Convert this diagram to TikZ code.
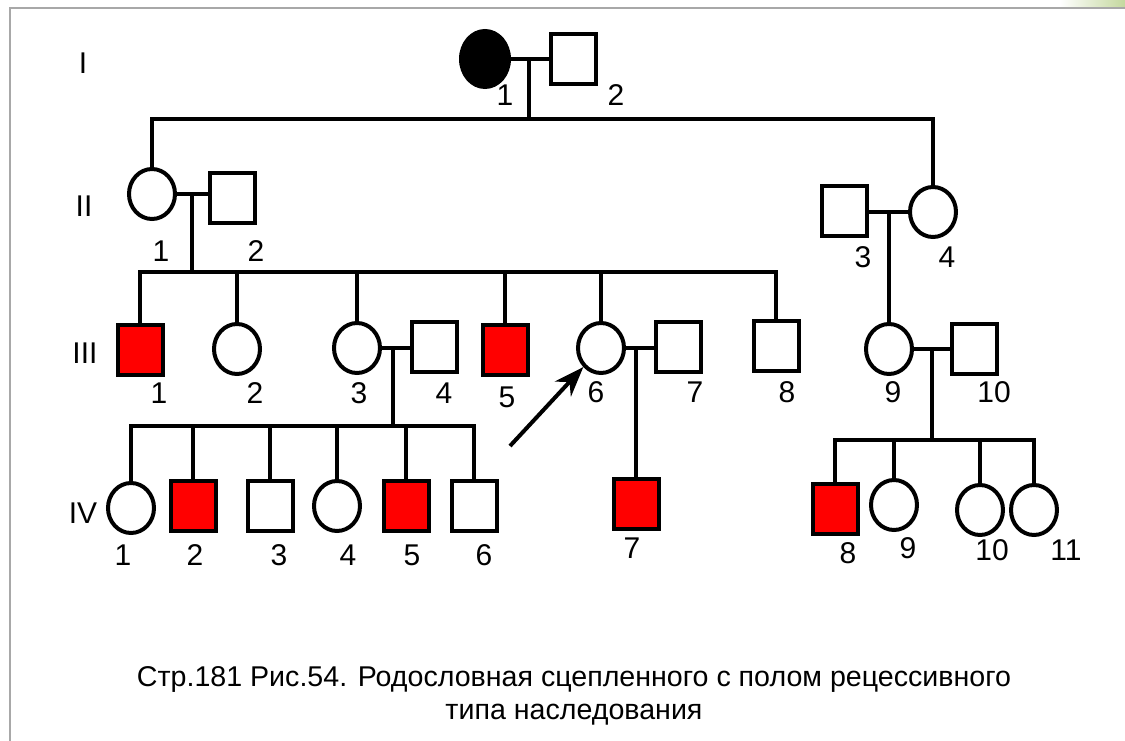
\documentclass[tikz,border=0pt]{standalone}
\usepackage{fontspec}
\setmainfont{Liberation Sans}
\usetikzlibrary{shapes.geometric,arrows.meta}
\definecolor{sick}{RGB}{255,0,0}
\definecolor{frame}{RGB}{168,168,168}
\definecolor{leaf}{RGB}{196,216,158}

\begin{document}
\begin{tikzpicture}[x=1pt,y=-1pt,line width=4pt,
  male/.style={draw,rectangle,minimum width=45pt,minimum height=50pt,inner sep=0pt},
  female/.style={draw,ellipse,minimum width=46pt,minimum height=50pt,inner sep=0pt},
  ill/.style={fill=sick},
  num/.style={inner sep=0pt,font=\fontsize{30}{30}\selectfont},
  caption/.style={inner sep=0pt,align=center,font=\fontsize{28.6}{33}\selectfont}]

\useasboundingbox (0,0) rectangle (1125,741);
\shade[left color=white,right color=leaf] (1060,0) rectangle (1125,8);
\draw[frame,line width=2pt] (1125,8) -- (10,8) -- (10,741);

% generations
\node[num] (gI) at (83,63) {I};
\node[num] (gII) at (84,206) {II};
\node[num] (gIII) at (85,353) {III};
\node[num] (gIV) at (83,513) {IV};

% I
\node[female,fill=black,minimum width=48pt,minimum height=56pt] (I1) at (485,59) {};
\node[male] (I2) at (573,59) {};
\node[num] (nI1) at (505,95) {1};
\node[num] (nI2) at (616,95) {2};
\draw (I1) -- (I2);
\coordinate (mI) at (529,59);
\coordinate (sI) at (529,119);
\draw (mI) -- (sI);

% II
\node[female] (II1) at (152,194) {};
\node[male] (II2) at (232,198) {};
\node[male] (II3) at (844,211) {};
\node[female] (II4) at (933,212) {};
\node[num] (nII1) at (161,251) {1};
\node[num] (nII2) at (256,251) {2};
\node[num] (nII3) at (863,257) {3};
\node[num] (nII4) at (947,257) {4};
\draw (II1.north) |- (sI) -| (II4.north);
\draw (II1.east) -- (II1.east -| II2.west);
\draw (II4.west) -- (II4.west -| II3.east);
\coordinate (mII) at (192,194);
\coordinate (sII) at (192,272);
\draw (mII) -- (sII);

% III
\node[male,ill] (III1) at (140,350) {};
\node[female] (III2) at (237,349) {};
\node[female] (III3) at (357,348) {};
\node[male] (III4) at (434,347) {};
\node[male,ill] (III5) at (505,350) {};
\node[female] (III6) at (601,348) {};
\node[male] (III7) at (678,347) {};
\node[male] (III8) at (776,346) {};
\node[female] (III9) at (889,349) {};
\node[male] (III10) at (974,349) {};
\node[num] (nIII1) at (159,393) {1};
\node[num] (nIII2) at (255,393) {2};
\node[num] (nIII3) at (359,393) {3};
\node[num] (nIII4) at (444,393) {4};
\node[num] (nIII5) at (507,397) {5};
\node[num] (nIII6) at (596,392) {6};
\node[num] (nIII7) at (695,392) {7};
\node[num] (nIII8) at (787,392) {8};
\node[num] (nIII9) at (893,392) {9};
\node[num] (nIII10) at (994,392) {10};
\draw (III1.north) |- (sII) -| (III8.north);
\foreach \c in {III2,III3,III5,III6}
  \draw (\c.north) -- (\c.north |- sII);
\coordinate (mII2) at (889,212);
\draw (mII2) -- (III9.north);
\draw (III3.east) -- (III3.east -| III4.west);
\draw (III6.east) -- (III6.east -| III7.west);
\draw (III9.east) -- (III9.east -| III10.west);
\coordinate (mIII3) at (393,348);
\coordinate (sIII3) at (393,426);
\draw (mIII3) -- (sIII3);
\coordinate (mIII6) at (636,348);
\coordinate (mIII9) at (932,349);
\coordinate (sIII9) at (932,440);
\draw (mIII9) -- (sIII9);

% IV
\node[female] (IV1) at (131,508) {};
\node[male,ill] (IV2) at (193,506) {};
\node[male] (IV3) at (270,506) {};
\node[female] (IV4) at (337,506) {};
\node[male,ill] (IV5) at (406,506) {};
\node[male] (IV6) at (474,506) {};
\node[male,ill] (IV7) at (636,504) {};
\node[male,ill] (IV8) at (835,509) {};
\node[female] (IV9) at (894,505) {};
\node[female] (IV10) at (980,510) {};
\node[female] (IV11) at (1034,510) {};
\node[num] (nIV1) at (123,555) {1};
\node[num] (nIV2) at (195,555) {2};
\node[num] (nIV3) at (279,555) {3};
\node[num] (nIV4) at (348,555) {4};
\node[num] (nIV5) at (412,555) {5};
\node[num] (nIV6) at (484,555) {6};
\node[num] (nIV7) at (632,548) {7};
\node[num] (nIV8) at (848,553) {8};
\node[num] (nIV9) at (908,548) {9};
\node[num] (nIV10) at (992,550) {10};
\node[num] (nIV11) at (1066,550) {11};
\draw (IV1.north) |- (sIII3) -| (IV6.north);
\foreach \c in {IV2,IV3,IV4,IV5}
  \draw (\c.north) -- (\c.north |- sIII3);
\draw (mIII6) -- (IV7.north);
\draw (IV8.north) |- (sIII9) -| (IV11.north);
\foreach \c in {IV9,IV10}
  \draw (\c.north) -- (\c.north |- sIII9);

% proband
\coordinate (ptr) at (510,446);
\draw[-{Stealth[length=30pt,width=22pt]}] (ptr) -- (III6);

\node[caption] (cap) at (574,696) {Стр.181 Рис.54. Родословная сцепленного с полом рецессивного\\типа наследования};

\end{tikzpicture}
\end{document}
